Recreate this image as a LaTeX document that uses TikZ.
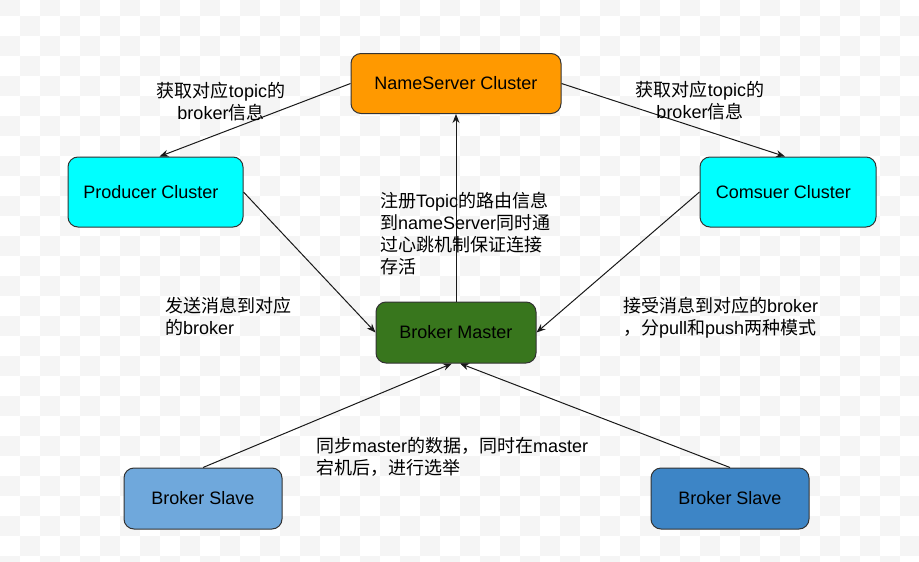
\documentclass[tikz,border=0pt]{standalone}
\usepackage{fontspec}
\setmainfont{Liberation Sans}
\newfontfamily\cjk{Noto Sans CJK SC}
\usetikzlibrary{arrows.meta}
\newcommand\zh[1]{{\cjk #1}}
\definecolor{chk}{HTML}{F5F5F5}
\definecolor{bordc}{HTML}{333333}
\definecolor{nsorange}{HTML}{FF9900}
\definecolor{clcyan}{HTML}{00FFFF}
\definecolor{mgreen}{HTML}{38761D}
\definecolor{slblue}{HTML}{6FA8DC}
\definecolor{srblue}{HTML}{3D85C6}
\begin{document}
\begin{tikzpicture}[x=1pt,y=-1pt,
  box/.style={draw=bordc, line width=1pt, rounded corners=10pt, inner sep=0pt,
    font=\fontsize{18}{22}\selectfont, text=black},
  lbl/.style={inner sep=0pt, align=left, anchor=north west, font=\fontsize{18}{22}\selectfont, text=black},
  clbl/.style={inner sep=0pt, align=center, font=\fontsize{18}{22}\selectfont, text=black},
  conn/.style={draw=black!90, line width=1pt, -{Stealth[length=9pt,width=7pt]}}]
\useasboundingbox (0,0) rectangle (919,562);
\begin{scope}
\clip (0,0) rectangle (919,562);
\fill[white] (0,0) rectangle (919,562);
\foreach \j in {0,...,28}{\foreach \i in {0,...,45}{%
  \pgfmathtruncatemacro\m{mod(\i+\j,2)}%
  \ifnum\m=0 \fill[chk] (20*\i,20*\j-4) rectangle ++(20,20);\fi}}
\end{scope}

\node[box, fill=nsorange, minimum width=210pt, minimum height=60pt] (ns) at (456,83.5) {NameServer Cluster};
\node[box, fill=clcyan, minimum width=175pt, minimum height=70pt] (prod) at (155.5,192) {\hspace*{-9pt}Producer Cluster};
\node[box, fill=clcyan, minimum width=176pt, minimum height=70pt] (cons) at (788,192) {\hspace*{-9pt}Comsuer Cluster};
\node[box, fill=mgreen, minimum width=160pt, minimum height=61pt] (master) at (456,332.5) {Broker Master};
\node[box, fill=slblue, minimum width=158pt, minimum height=61pt] (slaveL) at (203,498.5) {Broker Slave};
\node[box, fill=srblue, minimum width=158pt, minimum height=61pt] (slaveR) at (730,498.5) {Broker Slave};

\draw[conn] (ns.west) -- ([xshift=4pt]prod.north);
\draw[conn] (ns.east) -- ([xshift=-3pt]cons.north);
\draw[conn] (master.north) -- (ns.south);
\draw[conn] (prod.east) -- (master.west);
\draw[conn] (cons.west) -- (master.east);
\draw[conn] (slaveL.north) -- ([xshift=-4pt]master.south);
\draw[conn] (slaveR.north) -- ([xshift=4pt]master.south);

\node[clbl] (l1) at (221,102) {\zh{获取对应}topic\zh{的}\\broker\zh{信息}};
\node[clbl] (l2) at (700,101) {\zh{获取对应}topic\zh{的}\\broker\zh{信息}};
\node[lbl] (l3) at (380,192) {\zh{注册}Topic\zh{的路由信息}\\\zh{到}nameServer\zh{同时通}\\\zh{过心跳机制保证连接}\\\zh{存活}};
\node[lbl] (l4) at (165,297) {\zh{发送消息到对应}\\\zh{的}broker};
\node[lbl] (l5) at (623,297) {\zh{接受消息到对应的}broker\\\zh{，分}pull\zh{和}push\zh{两种模式}};
\node[lbl] (l6) at (316,437) {\zh{同步}master\zh{的数据，同时在}master\\\zh{宕机后，进行选举}};
\end{tikzpicture}
\end{document}
